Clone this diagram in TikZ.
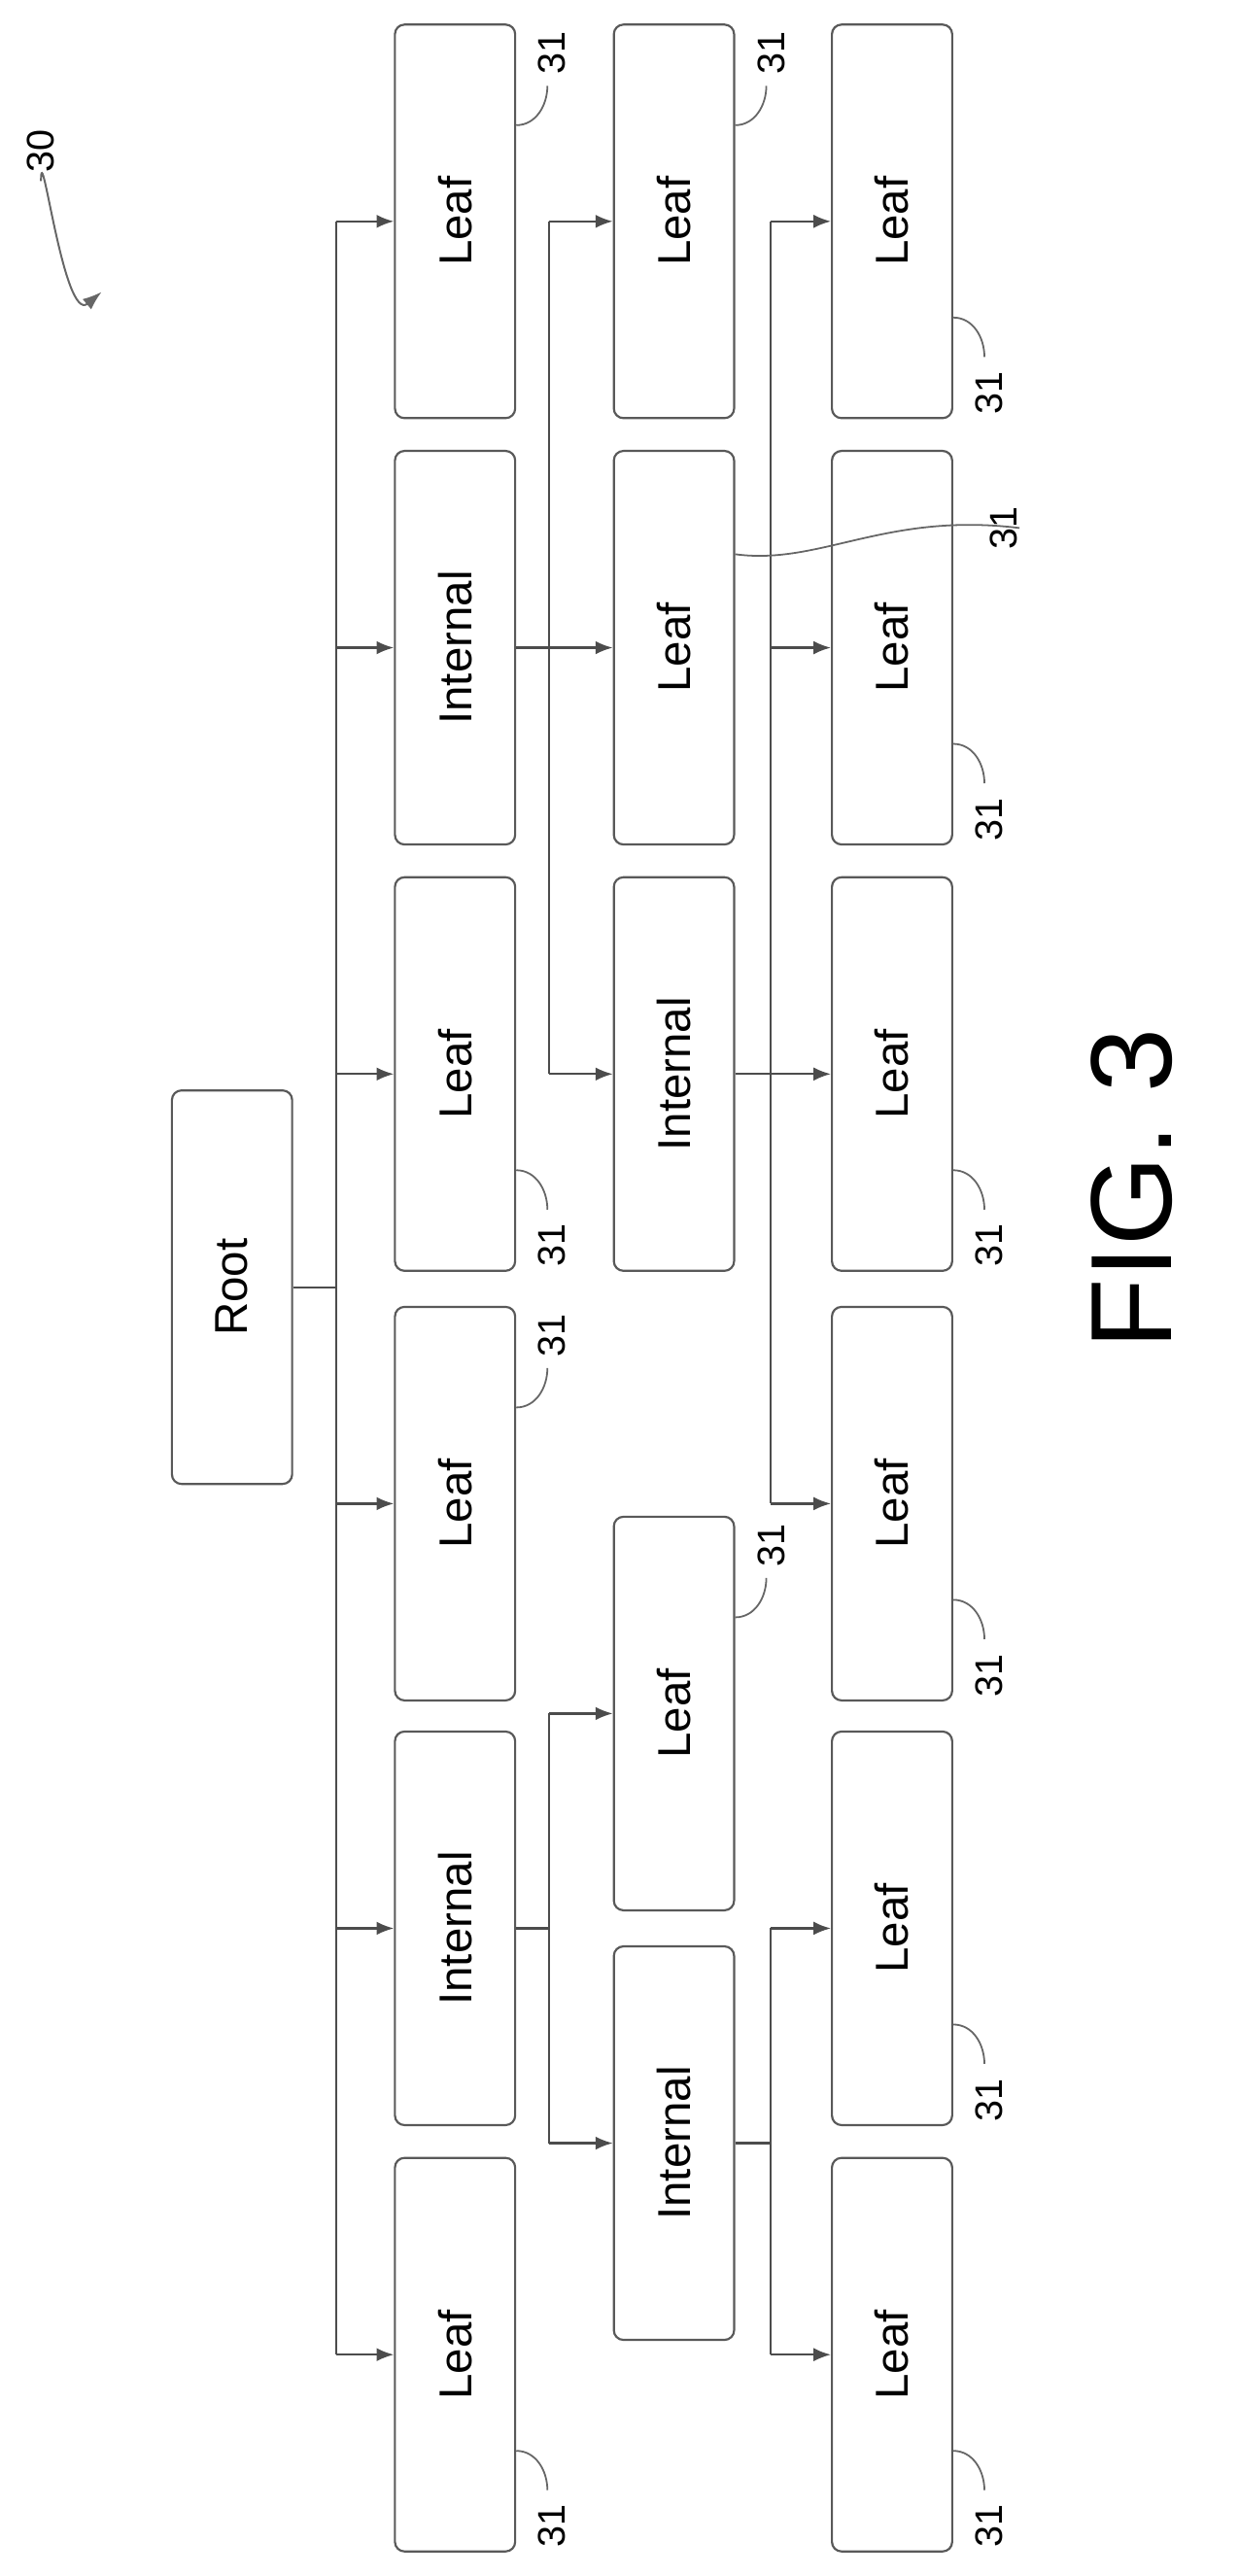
\documentclass[tikz,border=0pt]{standalone}
\usepackage{fontspec}
\setmainfont{Liberation Sans}
\usetikzlibrary{arrows.meta,calc}
\begin{document}
\begin{tikzpicture}[x=0.03cm,y=-0.03cm,
  box/.style={draw=black!65,line width=1.1pt,rounded corners=5pt,rotate=90,
     minimum width=7.2cm,minimum height=2.2cm,inner sep=0pt,font=\fontsize{24}{28}\selectfont},
  conn/.style={draw=black!70,line width=1.1pt},
  arr/.style={conn,-{Latex[length=9pt,width=7pt]}},
  lead/.style={draw=black!60,line width=0.9pt},
  num/.style={rotate=90,font=\fontsize{20}{24}\selectfont,inner sep=1pt}]
\useasboundingbox (0,0) rectangle (755,1571);
% root
\node[box] (R) at (141.5,785) {Root};
% level 1
\node[box] (A1) at (277.5,135) {Leaf};
\node[box] (A2) at (277.5,395) {Internal};
\node[box] (A3) at (277.5,655) {Leaf};
\node[box] (A4) at (277.5,917) {Leaf};
\node[box] (A5) at (277.5,1176) {Internal};
\node[box] (A6) at (277.5,1436) {Leaf};
% level 2
\node[box] (B1) at (411,135) {Leaf};
\node[box] (B2) at (411,395) {Leaf};
\node[box] (B3) at (411,655) {Internal};
\node[box] (B4) at (411,1045) {Leaf};
\node[box] (B5) at (411,1307) {Internal};
% level 3
\node[box] (C1) at (544,135) {Leaf};
\node[box] (C2) at (544,395) {Leaf};
\node[box] (C3) at (544,655) {Leaf};
\node[box] (C4) at (544,917) {Leaf};
\node[box] (C5) at (544,1176) {Leaf};
\node[box] (C6) at (544,1436) {Leaf};
% spines
\coordinate (s0) at (205,785);
\coordinate (s1) at (335,395);
\coordinate (s2) at (335,1176);
\coordinate (s3) at (470,655);
\coordinate (s4) at (470,1307);
\draw[conn] (R.south) -- (s0);
\draw[conn] (s0 |- A1) -- (s0 |- A6);
\foreach \n in {A1,A2,A3,A4,A5,A6} \draw[arr] (s0 |- \n) -- (\n.north);
\draw[conn] (A2.south) -- (s1);
\draw[conn] (s1 |- B1) -- (s1 |- B3);
\foreach \n in {B1,B2,B3} \draw[arr] (s1 |- \n) -- (\n.north);
\draw[conn] (A5.south) -- (s2);
\draw[conn] (s2 |- B4) -- (s2 |- B5);
\foreach \n in {B4,B5} \draw[arr] (s2 |- \n) -- (\n.north);
\draw[conn] (B3.south) -- (s3);
\draw[conn] (s3 |- C1) -- (s3 |- C4);
\foreach \n in {C1,C2,C3,C4} \draw[arr] (s3 |- \n) -- (\n.north);
\draw[conn] (B5.south) -- (s4);
\draw[conn] (s4 |- C5) -- (s4 |- C6);
\foreach \n in {C5,C6} \draw[arr] (s4 |- \n) -- (\n.north);
% 31 labels: top-right
\foreach \n/\k in {A1/t1,A4/t2,B1/t3,B4/t4}{
  \node[num] (\k) at ($(\n.south east)+(22,18)$) {31};
  \draw[lead] ($(\n.south east)+(0,62)$) to[out=0,in=-90] ($(\n.south east)+(19,38)$);
}
% bottom-right
\foreach \n/\k in {A3/b1,A6/b2,C1/b3,C2/b4,C3/b5,C4/b6,C5/b7,C6/b8}{
  \node[num] (\k) at ($(\n.south west)+(22,-16)$) {31};
  \draw[lead] ($(\n.south west)+(0,-62)$) to[out=0,in=90] ($(\n.south west)+(19,-38)$);
}
% long leader
\node[num] (w1) at (612,322) {31};
\draw[lead] (B2.south |- 0,338) .. controls (500,345) and (540,312) .. (w1.south);
% 30
\node[num] (n30) at (25,92) {30};
\coordinate (a30) at (62,178);
\draw[lead,line width=1pt,-{Latex[length=10pt,width=7pt]}] (n30.west) ++(0,4) to[out=90,in=-140] (a30);
% fig
\node[rotate=90,font=\fontsize{60}{70}\selectfont] (fig) at (690,725) {FIG. 3};
\end{tikzpicture}
\end{document}
